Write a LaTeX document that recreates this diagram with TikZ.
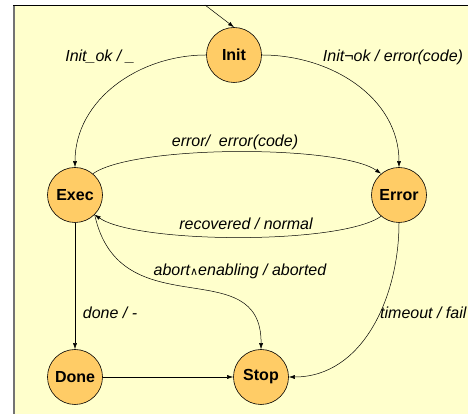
\documentclass[tikz,border=0pt]{standalone}
\usepackage{fontspec}
\setmainfont{Liberation Sans}
\newfontfamily\opfont{DejaVu Sans}
\usetikzlibrary{arrows.meta}

\definecolor{sheet}{HTML}{FFFFCC}
\definecolor{stfill}{HTML}{FFCC66}

\tikzset{
	stnode/.style={circle, draw, line width=0.6pt, fill=stfill, minimum size=55pt, inner sep=0pt,
		font=\fontsize{16}{18}\selectfont\bfseries},
	trans/.style={draw, line width=0.5pt, -{Latex[length=6pt,width=4pt]}},
	lbl/.style={font=\fontsize{16}{18}\selectfont\itshape, inner sep=0pt},
}

\begin{document}
\begin{tikzpicture}[x=1pt, y=1pt]
		\useasboundingbox (0,0) rectangle (468,414);
		\fill[sheet] (13,0) rectangle (468,409);
		\draw[black!55, line width=2pt] (14,0) -- (14,409);
		\draw[line width=0.8pt] (13,408.6) -- (468,408.6);

		\node[stnode] (init) at (234,359) {Init};
		\node[stnode] (exec) at (75,219) {Exec};
		\node[stnode] (error) at (399,219) {Error};
		\node[stnode] (done) at (75,37) {Done};
		\node[stnode] (stop) at (261,37) {Stop};
		\coordinate (entry) at (205,409);

		\draw[trans] (entry) -- (init.north);
		\draw[trans] (init.west) to[out=180, in=90] (exec.north);
		\draw[trans] (init.east) to[out=0, in=90] (error.north);
		\draw[trans] (exec.50) to[out=35, in=145, looseness=0.45] (error.130);
		\draw[trans] (error.230) to[out=215, in=325, looseness=0.45] (exec.-45);
		\draw[trans] (exec.-45) .. controls +(25,-115) and (262,164) .. (stop.north);
		\draw[trans] (exec) -- (done);
		\draw[trans] (done) -- (stop);
		\draw[trans] (error.south) to[out=-90, in=0] (stop.east);

		% transition labels
		\node[lbl] (l1) at (100,357) {Init\_ok / \_};
		\node[lbl] (l2) at (393,357) {Init¬ok / error(code)};
		\node[lbl] (l3) at (235,272) {error/\ \ error(code)};
		\node[lbl] (l4) at (246,190) {recovered / normal};
		\node[lbl] (l5) at (240,143) {abort{\opfont\fontsize{11}{12}\selectfont ∧}enabling / aborted};
		\node[lbl] (l6) at (110,101) {done / -};
		\node[lbl, anchor=west] (l7) at (380,101) {timeout / fail};
	\end{tikzpicture}
\end{document}
